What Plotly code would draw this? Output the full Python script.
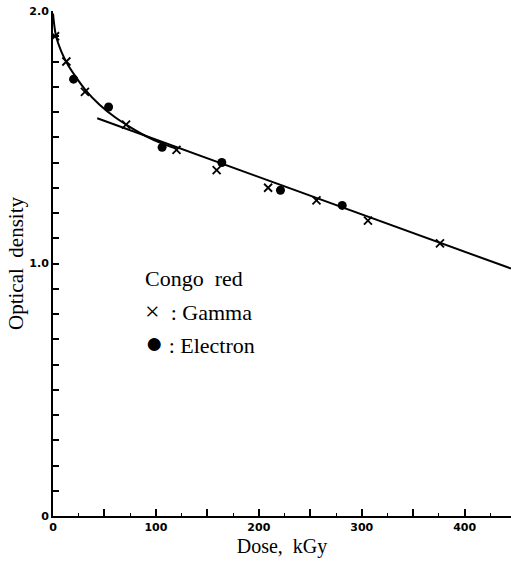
import plotly.graph_objects as go

# Data
gamma_x = [2, 13, 31, 71, 120, 159, 209, 256, 306, 376]
gamma_y = [1.90, 1.80, 1.68, 1.55, 1.45, 1.37, 1.30, 1.25, 1.17, 1.08]

electron_x = [20, 54, 106, 164, 221, 281]
electron_y = [1.73, 1.62, 1.46, 1.40, 1.29, 1.23]

curve_x = [0, 3, 8, 14, 22, 32, 45, 60, 75, 90, 105, 120]
curve_y = [1.99, 1.90, 1.84, 1.79, 1.74, 1.685, 1.63, 1.58, 1.54, 1.505, 1.477, 1.455]

line_x = [43, 445]
line_y = [1.575, 0.98]

x_major = [0, 50, 100, 150, 200, 250, 300, 350, 400]
x_labels = ["0", "", "100", "", "200", "", "300", "", "400"]
y_major = [round(0.1 * i, 1) for i in range(21)]
y_labels = ["0" if v == 0 else ("1.0" if v == 1.0 else ("2.0" if v == 2.0 else "")) for v in y_major]

fig = go.Figure()
fig.add_trace(go.Scatter(x=curve_x, y=curve_y, mode="lines", line=dict(color="black", width=2, shape="spline", smoothing=1.0), hoverinfo="skip"))
fig.add_trace(go.Scatter(x=line_x, y=line_y, mode="lines", line=dict(color="black", width=2), hoverinfo="skip"))
fig.add_trace(go.Scatter(x=gamma_x, y=gamma_y, mode="markers",
                         marker=dict(symbol="x-thin", size=8, color="black", line=dict(color="black", width=1.8))))
fig.add_trace(go.Scatter(x=electron_x, y=electron_y, mode="markers",
                         marker=dict(symbol="circle", size=9, color="black")))

serif = "Liberation Serif, Times New Roman, serif"
tickfont = dict(family="DejaVu Sans, sans-serif", size=11, color="black", weight="bold")

fig.update_layout(
    width=511, height=572,
    margin=dict(l=53, r=0, t=11, b=56),
    plot_bgcolor="white", paper_bgcolor="white",
    showlegend=False,
    xaxis=dict(range=[0, 445], showline=True, linecolor="black", linewidth=2, showgrid=False, zeroline=False,
               tickmode="array", tickvals=x_major, ticktext=x_labels, ticks="inside", ticklen=7, tickwidth=1.5,
               tickcolor="black", tickfont=tickfont,
               minor=dict(dtick=25, tick0=0, ticks="inside", ticklen=3, tickwidth=1.2, tickcolor="black"),
               title=dict(text="Dose,  kGy", font=dict(family=serif, size=20, color="black"), standoff=6)),
    yaxis=dict(range=[0, 2.0], showline=True, linecolor="black", linewidth=2, showgrid=False, zeroline=False,
               tickmode="array", tickvals=y_major, ticktext=y_labels, ticks="inside", ticklen=6, tickwidth=1.5,
               tickcolor="black", tickfont=tickfont,
               title=dict(text="Optical  density", font=dict(family=serif, size=21, color="black"), standoff=0)),
)

ann_font = dict(family=serif, size=22, color="black")
x0 = (143 - 53) / 458
fig.add_annotation(xref="paper", yref="paper", x=x0, y=(516 - 278) / 505, text="Congo&nbsp;&nbsp;red",
                   showarrow=False, xanchor="left", yanchor="middle", font=ann_font)
fig.add_annotation(xref="paper", yref="paper", x=x0, y=(516 - 311) / 505,
                   text="<span style='font-size:26px'>×</span>&nbsp;&nbsp;:&nbsp;Gamma",
                   showarrow=False, xanchor="left", yanchor="middle", font=ann_font)
fig.add_annotation(xref="paper", yref="paper", x=x0, y=(516 - 343) / 505,
                   text="<span style='font-size:30px'>●</span>&nbsp;:&nbsp;Electron",
                   showarrow=False, xanchor="left", yanchor="middle", font=ann_font)

fig.write_html("out.html")
